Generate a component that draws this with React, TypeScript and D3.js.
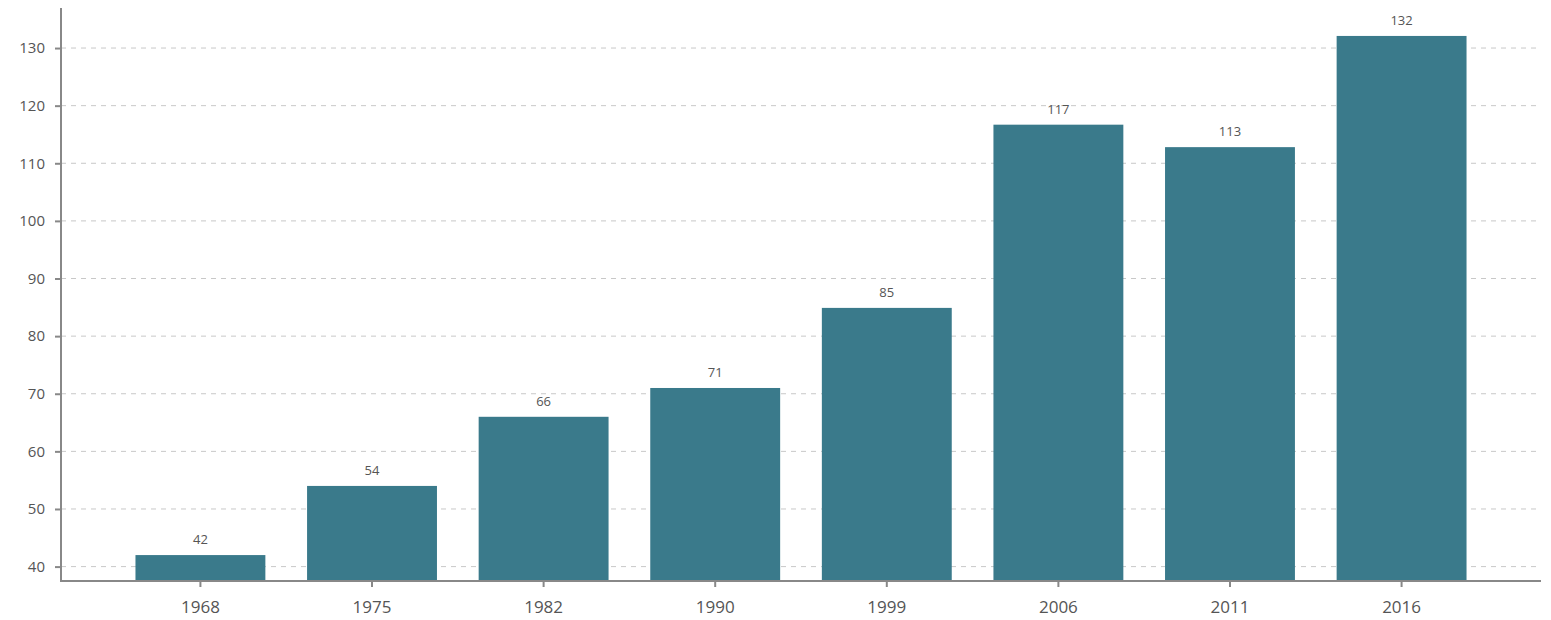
import React, { useEffect, useRef } from 'react';
import * as d3 from 'd3';

const years = ['1968', '1975', '1982', '1990', '1999', '2006', '2011', '2016'];
const values = [42, 54, 66, 71, 84.9, 116.7, 112.8, 132.1];
const yTicks = [40, 50, 60, 70, 80, 90, 100, 110, 120, 130];

export default function App() {
  const svgRef = useRef<SVGSVGElement>(null);

  useEffect(() => {
    document.body.style.margin = '0';
    if (!svgRef.current) return;

    const svg = d3.select(svgRef.current);
    svg.selectAll('*').remove();

    const width = 1551;
    const height = 620;
    const margin = { top: 8, right: 10, bottom: 39, left: 61 };
    const innerWidth = width - margin.left - margin.right;
    const innerHeight = height - margin.top - margin.bottom;
    const font = "'Open Sans', 'Noto Sans', sans-serif";

    svg.attr('width', width).attr('height', height);

    const g = svg.append('g').attr('transform', `translate(${margin.left},${margin.top})`);

    const xScale = d3
      .scaleBand()
      .domain(years)
      .range([0, innerWidth])
      .paddingInner(0.243)
      .paddingOuter(0.434);

    const yScale = d3.scaleLinear().domain([37.5, 136.95]).range([innerHeight, 0]);

    // Grid lines
    g.append('g')
      .selectAll('line')
      .data(yTicks)
      .join('line')
      .attr('x1', 0)
      .attr('x2', innerWidth)
      .attr('y1', (d) => yScale(d))
      .attr('y2', (d) => yScale(d))
      .attr('stroke', '#c8c8c8')
      .attr('stroke-width', 1)
      .attr('stroke-dasharray', '5,5');

    // Bars
    g.append('g')
      .selectAll('rect')
      .data(values)
      .join('rect')
      .attr('x', (_, i) => xScale(years[i])!)
      .attr('y', (d) => yScale(d))
      .attr('width', xScale.bandwidth())
      .attr('height', (d) => innerHeight - yScale(d))
      .attr('fill', '#3a7a8b');

    // Value labels
    g.append('g')
      .selectAll('text')
      .data(values)
      .join('text')
      .attr('x', (_, i) => xScale(years[i])! + xScale.bandwidth() / 2)
      .attr('y', (d) => yScale(d) - 11)
      .attr('text-anchor', 'middle')
      .attr('fill', '#555')
      .attr('font-family', font)
      .attr('font-size', '13px')
      .text((d) => d3.format('.0f')(d));

    // Y axis
    const yAxis = g
      .append('g')
      .call(d3.axisLeft(yScale).tickValues(yTicks).tickSize(6).tickSizeOuter(0).tickPadding(10));
    yAxis.select('.domain').remove();
    yAxis.selectAll('.tick line').attr('stroke', '#888').attr('stroke-width', 2);
    yAxis
      .selectAll('.tick text')
      .attr('fill', '#555')
      .attr('font-family', font)
      .attr('font-size', '15px');

    g.append('line')
      .attr('x1', 0)
      .attr('x2', 0)
      .attr('y1', 0)
      .attr('y2', innerHeight + 1)
      .attr('stroke', '#888')
      .attr('stroke-width', 2);

    // X axis
    const xAxis = g
      .append('g')
      .attr('transform', `translate(0,${innerHeight})`)
      .call(d3.axisBottom(xScale).tickSize(6).tickSizeOuter(0).tickPadding(14));
    xAxis.select('.domain').remove();
    xAxis.selectAll('.tick line').attr('stroke', '#888').attr('stroke-width', 2);
    xAxis
      .selectAll('.tick text')
      .attr('fill', '#555')
      .attr('font-family', font)
      .attr('font-size', '17px');

    g.append('line')
      .attr('x1', -1)
      .attr('x2', innerWidth)
      .attr('y1', innerHeight)
      .attr('y2', innerHeight)
      .attr('stroke', '#888')
      .attr('stroke-width', 2);
  }, []);

  return <svg ref={svgRef} style={{ display: 'block' }}></svg>;
}
